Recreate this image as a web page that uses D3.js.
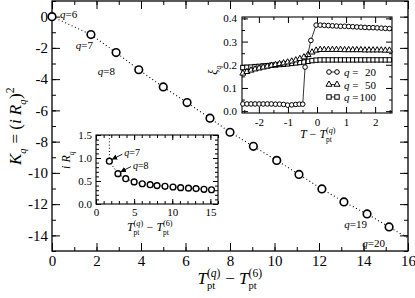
<!DOCTYPE html>
<html>
<head>
<meta charset="utf-8">
<script src="https://cdn.jsdelivr.net/npm/d3@7/dist/d3.min.js"></script>
<style>
body { margin: 0; background: #fff; }
</style>
</head>
<body>
<script>
// main panel: K_q against T_pt(q) - T_pt(6)
var qNums = [6, 7, 8, 9, 10, 11, 12, 13, 14, 15, 16, 17, 18, 19, 20];
var dT = [0, 1.75, 2.88, 3.9, 5.0, 6.07, 7.1, 8.0, 9.05, 10.1, 11.1, 12.13, 13.12, 14.16, 15.15];
var Kq = [0, -1.15, -2.3, -3.4, -4.5, -5.5, -6.5, -7.4, -8.3, -9.2, -10.1, -11.03, -11.86, -12.63, -13.46];

// lower inset: i R_q for q = 7..20
var iRq = [0.93, 0.66, 0.55, 0.48, 0.44, 0.42, 0.40, 0.385, 0.37, 0.355, 0.345, 0.335, 0.32, 0.31];

// upper inset: xi_q against T - T_pt(q)
var xGrid = [-2.55, -2.41, -2.27, -2.13, -1.99, -1.85, -1.71, -1.57, -1.43, -1.29, -1.15, -1.01, -0.87,
  -0.73, -0.59, -0.45, -0.31, -0.17, -0.03, 0.11, 0.25, 0.39, 0.53, 0.67, 0.81, 0.95, 1.09, 1.23,
  1.37, 1.51, 1.65, 1.79, 1.93, 2.07, 2.21, 2.35, 2.49];
var xi50 = [0.163, 0.170, 0.176, 0.181, 0.185, 0.189, 0.193, 0.197, 0.200, 0.204, 0.207, 0.211, 0.215,
  0.220, 0.226, 0.233, 0.243, 0.254, 0.262, 0.265, 0.265, 0.265, 0.265, 0.265, 0.265, 0.264, 0.264,
  0.264, 0.264, 0.264, 0.263, 0.263, 0.263, 0.263, 0.263, 0.262, 0.262];
var xi100 = [0.188, 0.189, 0.190, 0.192, 0.193, 0.195, 0.196, 0.198, 0.199, 0.201, 0.202, 0.204, 0.206,
  0.208, 0.210, 0.212, 0.215, 0.218, 0.220, 0.221, 0.221, 0.221, 0.221, 0.221, 0.221, 0.221, 0.221,
  0.221, 0.221, 0.221, 0.221, 0.221, 0.221, 0.221, 0.221, 0.221, 0.221];
var x20 = [-2.55, -2.41, -2.27, -2.13, -1.99, -1.85, -1.71, -1.57, -1.43, -1.29, -1.15, -1.01, -0.87,
  -0.73, -0.61, -0.49, -0.41, -0.21, -0.03, 0.11, 0.25, 0.39, 0.53, 0.67, 0.81, 0.95, 1.09, 1.23,
  1.37, 1.51, 1.65, 1.79, 1.93, 2.07, 2.21, 2.35, 2.49];
var xi20 = [0.031, 0.031, 0.031, 0.031, 0.031, 0.031, 0.031, 0.031, 0.030, 0.030, 0.029, 0.026, 0.027,
  0.029, 0.030, 0.030, 0.19, 0.305, 0.371, 0.371, 0.370, 0.369, 0.368, 0.367, 0.366, 0.366, 0.365,
  0.364, 0.363, 0.362, 0.361, 0.360, 0.360, 0.359, 0.358, 0.357, 0.356];
var legendQ = ["20", "50", "100"];

var FONT = '"Liberation Serif", "DejaVu Serif", serif';

var svg = d3.select('body').append('svg').attr('width', 415).attr('height', 298)
  .style('font-family', FONT);

function runs(t, parts) {
  t.style('font-family', FONT);
  if (typeof parts === 'string') parts = [[parts, 0]];
  parts.forEach(function (p) {
    t.append('tspan').style('font-style', p[1] ? 'italic' : 'normal').text(p[0]);
  });
}

// lays out text with sub / superscripts, returns group and width
function mathLabel(parent, segs, size) {
  var g = parent.append('g'), x = 0;
  segs.forEach(function (s) {
    if (s.t) {
      var t = g.append('text').attr('x', x).style('font-size', size + 'px');
      runs(t, s.t);
      x += t.node().getComputedTextLength();
    } else {
      var w = 0;
      if (s.sup) {
        var a = g.append('text').attr('x', x).attr('y', -0.42 * size).style('font-size', 0.68 * size + 'px');
        runs(a, s.sup);
        w = Math.max(w, a.node().getComputedTextLength());
      }
      if (s.sub) {
        var b = g.append('text').attr('x', x).attr('y', 0.3 * size).style('font-size', 0.62 * size + 'px');
        runs(b, s.sub);
        w = Math.max(w, b.node().getComputedTextLength());
      }
      x += w + 0.5;
    }
  });
  return { g: g, w: x };
}

function place(lbl, cx, cy, rot) {
  if (rot) lbl.g.attr('transform', 'translate(' + cx + ',' + cy + ') rotate(-90) translate(' + (-lbl.w / 2) + ',0)');
  else lbl.g.attr('transform', 'translate(' + (cx - lbl.w / 2) + ',' + cy + ')');
}

// frame with inward ticks on four sides
function axes(g, xs, ys, o) {
  var x0 = xs.range()[0], x1 = xs.range()[1], y0 = ys.range()[0], y1 = ys.range()[1];
  g.append('rect').attr('x', x0).attr('y', y1).attr('width', x1 - x0).attr('height', y0 - y1)
    .attr('fill', '#fff').attr('stroke', 'none');
  function put(ax, tr, labels) {
    var a = g.append('g').attr('transform', tr).call(ax).attr('font-family', null);
    a.select('.domain').remove();
    a.selectAll('line').attr('stroke', '#000').attr('stroke-width', o.sw || 1);
    a.selectAll('text').style('font-size', o.fs + 'px').style('font-family', FONT).attr('fill', '#000');
    if (!labels) a.selectAll('text').remove();
    return a;
  }
  put(d3.axisBottom(xs).tickValues(o.xMinor).tickSize(-o.ts).tickFormat(''), 'translate(0,' + y0 + ')');
  put(d3.axisTop(xs).tickValues(o.xMinor).tickSize(-o.ts).tickFormat(''), 'translate(0,' + y1 + ')');
  put(d3.axisLeft(ys).tickValues(o.yMinor).tickSize(-o.ts).tickFormat(''), 'translate(' + x0 + ',0)');
  put(d3.axisRight(ys).tickValues(o.yMinor).tickSize(-o.ts).tickFormat(''), 'translate(' + x1 + ',0)');
  put(d3.axisBottom(xs).tickValues(o.xMajor).tickSize(-o.tl).tickPadding(o.padX).tickFormat(o.xf), 'translate(0,' + y0 + ')', true);
  put(d3.axisTop(xs).tickValues(o.xMajor).tickSize(-o.tl).tickFormat(''), 'translate(0,' + y1 + ')');
  put(d3.axisLeft(ys).tickValues(o.yMajor).tickSize(-o.tl).tickPadding(o.padY).tickFormat(o.yf), 'translate(' + x0 + ',0)', true);
  put(d3.axisRight(ys).tickValues(o.yMajor).tickSize(-o.tl).tickFormat(''), 'translate(' + x1 + ',0)');
  g.append('rect').attr('x', x0).attr('y', y1).attr('width', x1 - x0).attr('height', y0 - y1)
    .attr('fill', 'none').attr('stroke', '#000').attr('stroke-width', o.fw || 1.2);
}

var intFmt = function (d) { return String(d); };

///////// main panel
var mx = d3.scaleLinear().domain([0, 16]).range([52, 408]);
var my = d3.scaleLinear().domain([-15, 1]).range([251, 1]);
var main = svg.append('g');
axes(main, mx, my, {
  xMajor: d3.range(0, 17, 2), xMinor: d3.range(0, 17, 1),
  yMajor: d3.range(-14, 1, 2), yMinor: d3.range(-15, 2, 1),
  tl: 8, ts: 4, fs: 15, padX: 4, padY: 4, xf: intFmt, yf: intFmt, fw: 1.3
});

// dotted line through the points, continued to the right edge
var nLast = dT.length - 1;
var slope = (Kq[nLast] - Kq[nLast - 1]) / (dT[nLast] - dT[nLast - 1]);
var linePts = dT.map(function (d, i) { return [d, Kq[i]]; });
linePts.push([16, Kq[nLast] + slope * (16 - dT[nLast])]);
main.append('path').attr('d', d3.line().x(function (d) { return mx(d[0]); }).y(function (d) { return my(d[1]); })(linePts))
  .attr('fill', 'none').attr('stroke', '#000').attr('stroke-width', 1.1).attr('stroke-dasharray', '1,2.6');

main.selectAll('circle.pt').data(dT).enter().append('circle')
  .attr('cx', function (d) { return mx(d); })
  .attr('cy', function (d, i) { return my(Kq[i]); })
  .attr('r', 3.8).attr('fill', '#fff').attr('stroke', '#000').attr('stroke-width', 1.6);

var qNotes = [
  { q: 6, dx: 8, dy: 1, anchor: 'start' },
  { q: 7, dx: 2, dy: 14, anchor: 'end' },
  { q: 8, dx: -1, dy: 22, anchor: 'end' },
  { q: 19, dx: 0, dy: 14, anchor: 'end' },
  { q: 20, dx: -4, dy: 20, anchor: 'end' }
];
qNotes.forEach(function (n) {
  var i = qNums.indexOf(n.q);
  var t = main.append('text').attr('x', mx(dT[i]) + n.dx).attr('y', my(Kq[i]) + n.dy)
    .attr('text-anchor', n.anchor).style('font-size', '11px');
  runs(t, [['q', 1], ['=' + n.q, 0]]);
});

place(mathLabel(svg, [{ t: [['K', 1]] }, { sub: [['q', 1]] }, { t: [['\u00a0=\u00a0(', 0], ['i\u00a0R', 1]] },
  { sub: [['q', 1]] }, { t: ')' }, { sup: '2' }], 17), 21, 126, true);
place(mathLabel(svg, [{ t: [['T', 1]] }, { sup: [['(', 0], ['q', 1], [')', 0]], sub: 'pt' },
  { t: '\u00a0\u2212\u00a0' }, { t: [['T', 1]] }, { sup: '(6)', sub: 'pt' }], 17), 230, 284, false);

///////// upper inset
var ax = d3.scaleLinear().domain([-2.58, 2.58]).range([242, 392]);
var ay = d3.scaleLinear().domain([-0.008, 0.406]).range([113, 17]);
var ins1 = svg.append('g');
axes(ins1, ax, ay, {
  xMajor: [-2, -1, 0, 1, 2], xMinor: [-2.5, -1.5, -0.5, 0.5, 1.5, 2.5],
  yMajor: [0, 0.1, 0.2, 0.3, 0.4], yMinor: [0.05, 0.15, 0.25, 0.35],
  tl: 6, ts: 3, fs: 11, padX: 5, padY: 5, xf: intFmt, yf: d3.format('.1f'), fw: 1.1
});
var aLine = d3.line().x(function (d) { return ax(d[0]); }).y(function (d) { return ay(d[1]); });
function series(xs, ys, shape) {
  var pts = xs.map(function (x, i) { return [x, ys[i]]; });
  ins1.append('path').attr('d', aLine(pts)).attr('fill', 'none').attr('stroke', '#000').attr('stroke-width', 0.8);
  pts.forEach(function (p) { marker(ins1, ax(p[0]), ay(p[1]), shape); });
}
function marker(g, x, y, shape) {
  if (shape === 'c') {
    g.append('circle').attr('cx', x).attr('cy', y).attr('r', 2.3)
      .attr('fill', '#fff').attr('stroke', '#000').attr('stroke-width', 1);
  } else if (shape === 't') {
    g.append('path').attr('d', d3.symbol(d3.symbolTriangle, 16)()).attr('transform', 'translate(' + x + ',' + y + ')')
      .attr('fill', '#fff').attr('stroke', '#000').attr('stroke-width', 1);
  } else {
    g.append('rect').attr('x', x - 2.2).attr('y', y - 2.2).attr('width', 4.4).attr('height', 4.4)
      .attr('fill', '#fff').attr('stroke', '#000').attr('stroke-width', 1);
  }
}
series(xGrid, xi100, 's');
series(xGrid, xi50, 't');
series(x20, xi20, 'c');

var shapes = ['c', 't', 's'];
legendQ.forEach(function (q, i) {
  var y = 72 + i * 12.5;
  ins1.append('line').attr('x1', 329).attr('x2', 337).attr('y1', y).attr('y2', y).attr('stroke', '#000').attr('stroke-width', 0.8);
  marker(ins1, 329, y, shapes[i]);
  marker(ins1, 337, y, shapes[i]);
  var t = ins1.append('text').attr('x', 344).attr('y', y + 4).style('font-size', '11px');
  runs(t, [['q', 1], ['\u00a0=', 0]]);
  var n = ins1.append('text').attr('x', 376).attr('y', y + 4).attr('text-anchor', 'end').style('font-size', '11px');
  runs(n, q);
});
place(mathLabel(svg, [{ t: [['\u03be', 1]] }, { sub: [['q', 1]] }], 12), 217, 70, true);
place(mathLabel(svg, [{ t: [['T', 1]] }, { t: '\u00a0\u2212\u00a0' }, { t: [['T', 1]] },
  { sup: [['(', 0], ['q', 1], [')', 0]], sub: 'pt' }], 12), 318, 138, false);

///////// lower inset
var bx = d3.scaleLinear().domain([0, 16]).range([96, 218]);
var by = d3.scaleLinear().domain([0, 1.5]).range([204, 135]);
var ins2 = svg.append('g');
axes(ins2, bx, by, {
  xMajor: [0, 5, 10, 15], xMinor: d3.range(0, 17, 1),
  yMajor: [0, 0.5, 1, 1.5], yMinor: d3.range(0, 1.55, 0.1),
  tl: 5, ts: 3, fs: 11, padX: 4, padY: 4, xf: intFmt, yf: d3.format('.1f'), fw: 1.1
});
var dT2 = dT.slice(1);
var iPts = dT2.map(function (d, i) { return [d, iRq[i]]; });
iPts.unshift([dT2[0], 1.5]);
ins2.append('path').attr('d', d3.line().x(function (d) { return bx(d[0]); }).y(function (d) { return by(d[1]); })(iPts))
  .attr('fill', 'none').attr('stroke', '#000').attr('stroke-width', 1).attr('stroke-dasharray', '1,2.2');
ins2.selectAll('circle.ir').data(dT2).enter().append('circle')
  .attr('cx', function (d) { return bx(d); })
  .attr('cy', function (d, i) { return by(iRq[i]); })
  .attr('r', 2.9).attr('fill', '#fff').attr('stroke', '#000').attr('stroke-width', 1.4);

var defs = svg.append('defs');
defs.append('marker').attr('id', 'ah').attr('viewBox', '0 0 10 10').attr('refX', 9).attr('refY', 5)
  .attr('markerWidth', 6).attr('markerHeight', 6).attr('orient', 'auto')
  .append('path').attr('d', 'M0,0 L10,5 L0,10 z').attr('fill', '#000');
[0, 1].forEach(function (i) {
  var px = bx(dT2[i]), py = by(iRq[i]);
  ins2.append('line').attr('x1', px + 13).attr('y1', py - 7).attr('x2', px + 3).attr('y2', py - 2)
    .attr('stroke', '#000').attr('stroke-width', 0.9).attr('marker-end', 'url(#ah)');
  var t = ins2.append('text').attr('x', px + 15).attr('y', py - 5).style('font-size', '10px');
  runs(t, [['q', 1], ['=' + qNums[i + 1], 0]]);
});
place(mathLabel(svg, [{ t: [['i\u00a0R', 1]] }, { sub: [['q', 1]] }], 12), 70, 160, true);
place(mathLabel(svg, [{ t: [['T', 1]] }, { sup: [['(', 0], ['q', 1], [')', 0]], sub: 'pt' },
  { t: '\u00a0\u2212\u00a0' }, { t: [['T', 1]] }, { sup: '(6)', sub: 'pt' }], 12), 150, 231, false);
</script>
</body>
</html>
